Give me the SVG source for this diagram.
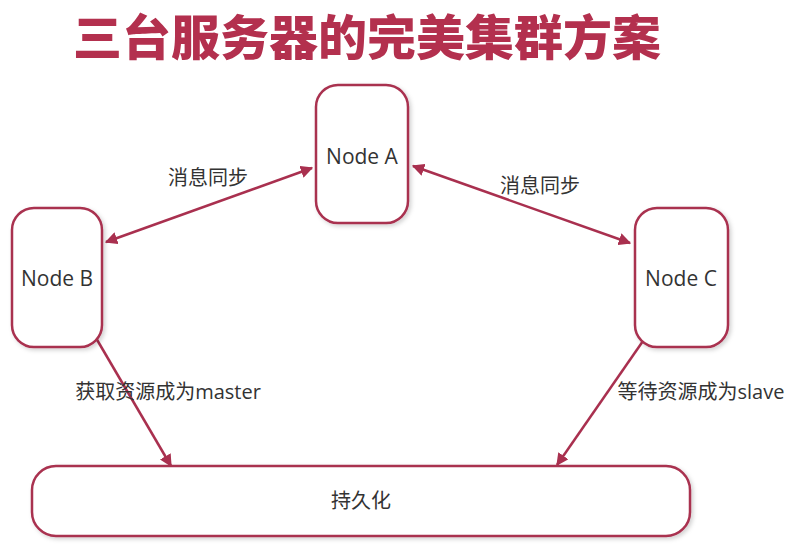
<svg xmlns="http://www.w3.org/2000/svg" width="800" height="549" viewBox="0 0 800 549">
<defs>
<style>
.node{fill:#fff;stroke:#A9304F;stroke-width:2.5;filter:url(#sh)}
.lbl{font-family:"Open Sans","Noto Sans CJK SC",sans-serif;font-size:20px;fill:#333;text-anchor:middle;dominant-baseline:central}
.nl{font-size:21px}
.edge{stroke:#A9304F;stroke-width:2.5;fill:none}
.title{font-family:"Noto Sans CJK SC",sans-serif;font-weight:900;font-size:48px;fill:#B3304E}
</style>
<filter id="sh" x="-20%" y="-20%" width="140%" height="140%">
<feDropShadow dx="2" dy="2" stdDeviation="2" flood-color="#000" flood-opacity="0.18"/>
</filter>
<marker id="ah" viewBox="0 0 10 10" refX="9" refY="5" markerWidth="5" markerHeight="5" orient="auto-start-reverse">
<path d="M0,0 L10,5 L0,10 z" fill="#A9304F"/>
</marker>
</defs>
<rect width="800" height="549" fill="#fff"/>
<text class="title" x="73" y="55" textLength="588" lengthAdjust="spacingAndGlyphs">三台服务器的完美集群方案</text>
<g id="edges">
<line class="edge" x1="106" y1="242" x2="312" y2="168" marker-start="url(#ah)" marker-end="url(#ah)"/>
<line class="edge" x1="413" y1="166" x2="630" y2="243" marker-start="url(#ah)" marker-end="url(#ah)"/>
<line class="edge" x1="96" y1="338" x2="171" y2="466" marker-end="url(#ah)"/>
<line class="edge" x1="643" y1="341" x2="557" y2="465" marker-end="url(#ah)"/>
<text class="lbl" x="208" y="177">消息同步</text>
<text class="lbl" x="540" y="185">消息同步</text>
<text class="lbl" x="168" y="391">获取资源成为master</text>
<text class="lbl" x="701" y="391">等待资源成为slave</text>
</g>
<g id="nodeA">
<rect class="node" x="316" y="85" width="92" height="138" rx="22"/>
<text class="lbl nl" x="362" y="156">Node A</text>
</g>
<g id="nodeB">
<rect class="node" x="12" y="208" width="90" height="139" rx="22"/>
<text class="lbl nl" x="57" y="278">Node B</text>
</g>
<g id="nodeC">
<rect class="node" x="635" y="208" width="93" height="139" rx="22"/>
<text class="lbl nl" x="681" y="278">Node C</text>
</g>
<g id="persist">
<rect class="node" x="32" y="466" width="658" height="70" rx="24"/>
<text class="lbl" x="361" y="500">持久化</text>
</g>
</svg>
